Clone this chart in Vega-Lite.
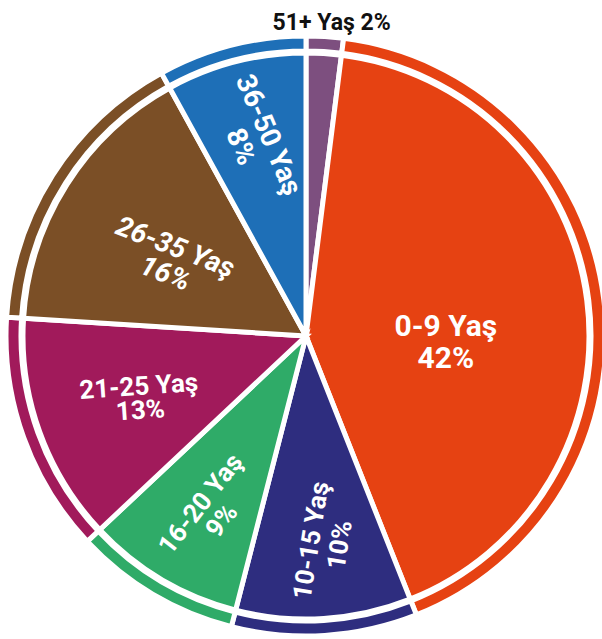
{
  "$schema": "https://vega.github.io/schema/vega-lite/v6.json",
  "autosize": "none",
  "width": 592,
  "height": 606,
  "padding": {"left": 10, "top": 33, "right": 0, "bottom": 0},
  "background": "white",
  "config": {"view": {"stroke": null}},
  "data": {"values": [
    {"idx": 1, "age": "51+ Yaş", "value": 2, "label": "51+ Yaş 2%"},
    {"idx": 2, "age": "0-9 Yaş", "value": 42, "label": "0-9 Yaş\n42%"},
    {"idx": 3, "age": "10-15 Yaş", "value": 10, "label": "10-15 Yaş\n10%"},
    {"idx": 4, "age": "16-20 Yaş", "value": 9, "label": "16-20 Yaş\n9%"},
    {"idx": 5, "age": "21-25 Yaş", "value": 13, "label": "21-25 Yaş\n13%"},
    {"idx": 6, "age": "26-35 Yaş", "value": 16, "label": "26-35 Yaş\n16%"},
    {"idx": 7, "age": "36-50 Yaş", "value": 8, "label": "36-50 Yaş\n8%"}
  ]},
  "encoding": {
    "theta": {"field": "value", "type": "quantitative", "stack": true},
    "order": {"field": "idx", "type": "quantitative"},
    "detail": {"field": "age", "type": "nominal"}
  },
  "layer": [
    {
      "mark": {"type": "arc", "outerRadius": 283, "innerRadius": 0, "stroke": "white", "strokeWidth": 5},
      "encoding": {"color": {"field": "age", "type": "nominal", "legend": null,
        "scale": {"domain": ["51+ Yaş", "0-9 Yaş", "10-15 Yaş", "16-20 Yaş", "21-25 Yaş", "26-35 Yaş", "36-50 Yaş"],
                  "range": ["#7D4F7F", "#E64212", "#2E2D7F", "#2FAB68", "#A11A5B", "#7B4F26", "#1E6FB7"]}}}
    },
    {
      "mark": {"type": "arc", "outerRadius": 300, "innerRadius": 285, "stroke": "white", "strokeWidth": 5},
      "encoding": {"color": {"field": "age", "type": "nominal", "legend": null}}
    },
    {
      "mark": {"type": "text", "radius": 141, "dy": 9, "angle": 0, "fontSize": 30, "lineHeight": 32, "font": "Roboto", "fontWeight": "bold", "color": "white", "lineBreak": "\n", "align": "center", "baseline": "middle"},
      "encoding": {"text": {"condition": {"test": "datum.age === '0-9 Yaş'", "field": "label", "type": "nominal"}, "value": ""}}
    },
    {
      "mark": {"type": "text", "radius": 206, "dy": -7.5, "angle": 279, "fontSize": 26, "lineHeight": 29, "font": "Roboto", "fontWeight": "bold", "color": "white", "lineBreak": "\n", "align": "center", "baseline": "middle"},
      "encoding": {"text": {"condition": {"test": "datum.age === '10-15 Yaş'", "field": "label", "type": "nominal"}, "value": ""}}
    },
    {
      "mark": {"type": "text", "radius": 199, "dy": -5, "angle": 308, "fontSize": 26, "lineHeight": 27, "font": "Roboto", "fontWeight": "bold", "color": "white", "lineBreak": "\n", "align": "center", "baseline": "middle"},
      "encoding": {"text": {"condition": {"test": "datum.age === '16-20 Yaş'", "field": "label", "type": "nominal"}, "value": ""}}
    },
    {
      "mark": {"type": "text", "radius": 177, "dy": -9, "angle": 356, "fontSize": 26, "lineHeight": 24, "font": "Roboto", "fontWeight": "bold", "color": "white", "lineBreak": "\n", "align": "center", "baseline": "middle"},
      "encoding": {"text": {"condition": {"test": "datum.age === '21-25 Yaş'", "field": "label", "type": "nominal"}, "value": ""}}
    },
    {
      "mark": {"type": "text", "radius": 157, "dy": -4, "angle": 21, "fontSize": 28, "lineHeight": 28, "font": "Roboto", "fontWeight": "bold", "fontStyle": "italic", "color": "white", "lineBreak": "\n", "align": "center", "baseline": "middle"},
      "encoding": {"text": {"condition": {"test": "datum.age === '26-35 Yaş'", "field": "label", "type": "nominal"}, "value": ""}}
    },
    {
      "mark": {"type": "text", "radius": 202, "dy": -13, "angle": 67, "fontSize": 28, "lineHeight": 30, "font": "Roboto", "fontWeight": "bold", "color": "white", "lineBreak": "\n", "align": "center", "baseline": "middle"},
      "encoding": {"text": {"condition": {"test": "datum.age === '36-50 Yaş'", "field": "label", "type": "nominal"}, "value": ""}}
    },
    {
      "mark": {"type": "text", "radius": 314, "dx": 6, "angle": 0, "fontSize": 23, "font": "Roboto", "fontWeight": "bold", "color": "#111111", "align": "center", "baseline": "middle"},
      "encoding": {"text": {"condition": {"test": "datum.age === '51+ Yaş'", "field": "label", "type": "nominal"}, "value": ""}}
    }
  ]
}
